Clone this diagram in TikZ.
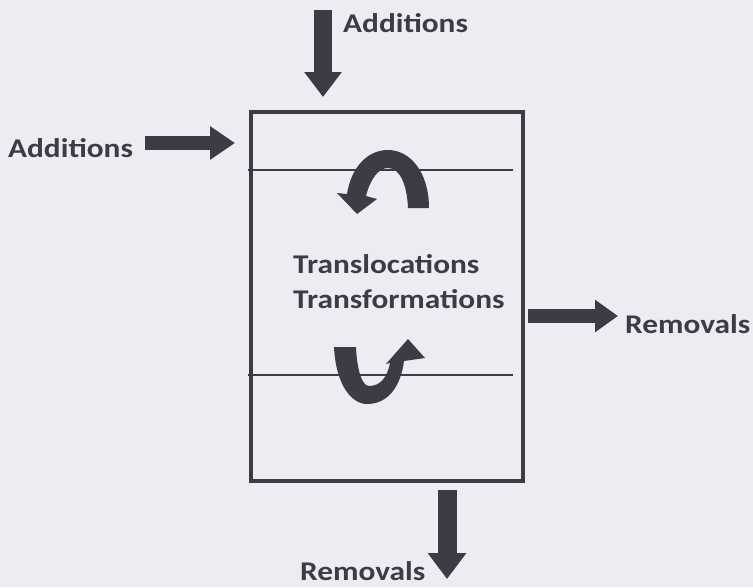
\documentclass[tikz,border=0pt]{standalone}
\usepackage{fontspec}
\setmainfont[FakeStretch=1.16]{Carlito}
\usetikzlibrary{arrows.meta}
\definecolor{bg}{RGB}{235,237,243}
\definecolor{ink}{RGB}{60,60,68}
\begin{document}
\begin{tikzpicture}[x=1pt,y=-1pt,
  lbl/.style={inner sep=0pt,text=ink,font=\fontsize{27}{32}\selectfont\bfseries},
  blockarrow/.style={draw=ink,line width=#1,-{Triangle[width=34pt,length=25pt]}},
  thinline/.style={draw=ink,line width=2.6pt},
  curvearrow/.style={fill=ink}]
\fill[bg] (0,0) rectangle (753,587);
\useasboundingbox (0,0) rectangle (753,587);
% box
\node[draw=ink,line width=4.4pt,minimum width=272pt,minimum height=369pt,inner sep=0pt,anchor=north west] (box) at (248.8,109.8) {};
\coordinate (l1a) at (248,170); \coordinate (l1b) at (513,170);
\coordinate (l2a) at (248,375); \coordinate (l2b) at (513,375);
\draw[thinline] (l1a) -- (l1b);
\draw[thinline] (l2a) -- (l2b);
% labels
\node[lbl,anchor=base west] (addtop) at (343,32) {Additions};
\node[lbl,anchor=base west] (addleft) at (8,157) {Additions};
\node[lbl,anchor=base west] (remright) at (625,333) {Removals};
\node[lbl,anchor=base west] (rembot) at (300,580) {Removals};
\node[lbl,anchor=base west] (trl) at (293,273) {Translocations};
\node[lbl,anchor=base west] (trf) at (293,308) {Transformations};
% straight block arrows
\coordinate (ta) at (323,10); \coordinate (tb) at (323,97);
\coordinate (la) at (145,143); \coordinate (lb) at (235,143);
\coordinate (ra) at (528,316); \coordinate (rb) at (618,316);
\coordinate (ba) at (447,490); \coordinate (bb) at (447,579);
\draw[blockarrow=18pt,-{Triangle[width=36pt,length=25pt]}] (ta) -- (tb);
\draw[blockarrow=14pt,-{Triangle[width=32pt,length=25pt]}] (la) -- (lb);
\draw[blockarrow=14pt,-{Triangle[width=31pt,length=23pt]}] (ra) -- (rb);
\draw[blockarrow=19pt,-{Triangle[width=37pt,length=26pt]}] (ba) -- (bb);
% curved arrows
\fill[curvearrow] (429,208) .. controls (429,172) and (410,150) .. (388,150)
  .. controls (367,150) and (351,168) .. (347,194)
  -- (337,193) -- (357,214) -- (377,199) -- (366,196)
  .. controls (370,180) and (378,168) .. (388,168)
  .. controls (400,168) and (407,185) .. (408,208) -- cycle;
\fill[curvearrow] (334,347) .. controls (336,386) and (352,404) .. (367,404)
  .. controls (389,404) and (401,385) .. (404,361)
  -- (425,358) -- (408,339) -- (386,364) -- (390,363)
  .. controls (387,378) and (380,386) .. (369,386)
  .. controls (362,386) and (357,370) .. (356,347) -- cycle;
\end{tikzpicture}
\end{document}
